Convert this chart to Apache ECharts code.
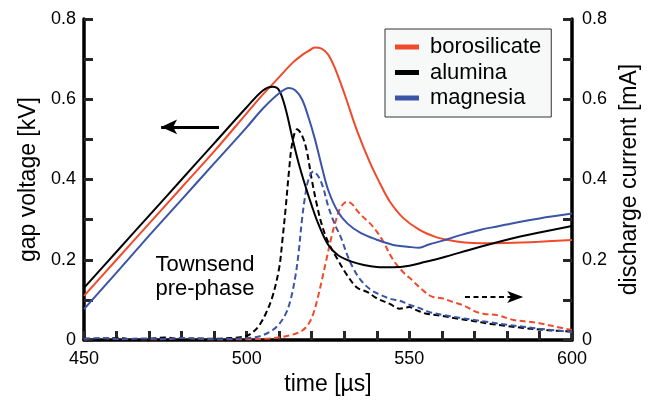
<!DOCTYPE html>
<html>
<head>
<meta charset="utf-8">
<script src="https://cdn.jsdelivr.net/npm/echarts@6/dist/echarts.min.js"></script>
<style>html,body{margin:0;padding:0;background:#fff}#c{width:650px;height:403px}</style>
</head>
<body>
<div id="c"></div>
<script>
// ---- data (time in µs, voltage in kV, current in mA) ----
const legendNames = ['borosilicate', 'alumina', 'magnesia'];
const xTicks = [450, 500, 550, 600];
const yTicks = [0, 0.2, 0.4, 0.6, 0.8];

const borosilicateVoltage = [[450,0.11],[460,0.2],[470,0.29],[480,0.38],[490,0.47],[500,0.565],[505,0.612],[510,0.655],[514,0.69],[517,0.71],[519,0.72],[521,0.729],[523,0.726],[525,0.712],[527,0.68],[530,0.615],[534,0.52],[538,0.44],[541,0.39],[544,0.345],[548,0.305],[553,0.275],[558,0.257],[562,0.249],[567,0.243],[572,0.241],[580,0.242],[590,0.245],[600,0.249]];
const aluminaVoltage = [[450,0.13],[460,0.22],[470,0.31],[480,0.4],[490,0.49],[500,0.58],[505,0.622],[508,0.631],[510,0.622],[512,0.575],[514,0.505],[516,0.44],[518,0.385],[520,0.335],[522,0.29],[525,0.238],[528,0.212],[532,0.196],[536,0.187],[540,0.182],[545,0.181],[550,0.185],[555,0.195],[560,0.205],[570,0.228],[580,0.25],[590,0.268],[600,0.284]];
const magnesiaVoltage = [[450,0.077],[460,0.168],[470,0.26],[480,0.35],[490,0.44],[500,0.53],[505,0.577],[510,0.615],[513,0.628],[515,0.622],[517,0.6],[519,0.555],[521,0.5],[523,0.435],[525,0.375],[528,0.32],[531,0.29],[535,0.267],[540,0.25],[545,0.237],[550,0.232],[553,0.23],[556,0.238],[560,0.247],[566,0.262],[572,0.275],[577,0.283],[583,0.293],[590,0.303],[600,0.315]];

const borosilicateCurrent = [[450,0.002],[460,0.003],[470,0.002],[480,0.003],[490,0.002],[500,0.002],[507,0.004],[511,0.008],[514,0.013],[517,0.023],[519,0.04],[520.5,0.066],[522,0.11],[523,0.145],[524.5,0.2],[526,0.255],[527.5,0.3],[529,0.332],[531,0.345],[532.5,0.338],[534,0.322],[536,0.305],[538,0.29],[540,0.27],[542,0.245],[545,0.2],[548,0.17],[551,0.148],[554,0.125],[557,0.108],[560,0.104],[563,0.096],[567,0.085],[570,0.072],[573,0.065],[577,0.062],[582,0.05],[586,0.046],[590,0.042],[595,0.033],[600,0.025]];
const aluminaCurrent = [[450,0.004],[455,0.002],[460,0.005],[465,0.002],[470,0.003],[475,0.006],[480,0.002],[485,0.004],[490,0.003],[495,0.005],[498,0.007],[500,0.01],[502,0.02],[504,0.038],[506,0.068],[508,0.11],[510,0.18],[511,0.25],[512,0.33],[513,0.42],[514,0.49],[515.5,0.525],[517,0.51],[518.5,0.47],[520,0.4],[521.5,0.34],[523,0.29],[525,0.245],[528,0.2],[531,0.16],[534,0.13],[537,0.12],[540,0.104],[544,0.09],[547,0.078],[550,0.082],[552,0.075],[555,0.066],[560,0.06],[565,0.053],[570,0.047],[575,0.04],[580,0.035],[585,0.03],[590,0.026],[595,0.023],[600,0.021]];
const magnesiaCurrent = [[450,0.003],[456,0.005],[462,0.002],[468,0.004],[474,0.002],[480,0.005],[486,0.003],[492,0.002],[498,0.004],[502,0.006],[505,0.012],[508,0.025],[510,0.04],[512,0.065],[513.5,0.1],[515,0.16],[516,0.22],[517,0.3],[518,0.36],[519,0.4],[520.5,0.42],[522,0.408],[523.5,0.38],[525,0.335],[527,0.29],[529,0.255],[531,0.21],[533,0.175],[535,0.15],[538,0.126],[541,0.113],[544,0.103],[547,0.098],[550,0.088],[553,0.08],[556,0.07],[560,0.063],[565,0.056],[570,0.05],[575,0.044],[580,0.038],[585,0.033],[590,0.028],[595,0.024],[600,0.02]];

// arrows (annotation), in data coordinates: [start, tip]
const voltArrow = [[491.5, 0.531], [473.7, 0.531]];
const currArrow = [[567.1, 0.107], [585.0, 0.107]];

const RED = '#F04A2B', BLACK = '#000000', BLUE = '#3B54A6';
const FONT = 'Liberation Sans, Arial, Helvetica, sans-serif';

const chart = echarts.init(document.getElementById('c'));

function tick() {
  return {show: true, inside: true, length: 9, lineStyle: {color: '#262626', width: 3, opacity: 1}};
}

function yAxisCfg(pos, name) {
  return {
    type: 'value', position: pos, min: 0, max: 0.8, interval: 0.1,
    name: name, nameLocation: 'middle', nameRotate: 90,
    nameGap: pos === 'left' ? 42 : 46,
    nameTextStyle: {fontSize: 23, color: '#000', fontFamily: FONT},
    axisLine: {show: true, onZero: false, lineStyle: {color: '#000', width: 3.5}},
    axisTick: tick(),
    axisLabel: {
      color: '#000', fontSize: 18, fontFamily: FONT, margin: pos === 'left' ? 8 : 10,
      formatter: v => {
        const hit = yTicks.find(t => Math.abs(t - v) < 1e-6);
        return hit === undefined ? '' : (hit === 0 ? '0' : String(hit));
      }
    },
    splitLine: {show: false}
  };
}

function line(name, data, color, yIdx, dashed) {
  return {
    name: name, type: 'line', data: data, yAxisIndex: yIdx,
    showSymbol: false, symbol: 'none', smooth: 0.35, silent: true,
    lineStyle: {color: color, width: 2, type: dashed ? [6, 3.5] : 'solid'},
    itemStyle: {color: color},
    z: dashed ? 3 : 4
  };
}

const series = [
  line('borosilicate', borosilicateVoltage, RED, 0, false),
  line('alumina', aluminaVoltage, BLACK, 0, false),
  line('magnesia', magnesiaVoltage, BLUE, 0, false),
  line('borosilicate current', borosilicateCurrent, RED, 1, true),
  line('alumina current', aluminaCurrent, BLACK, 1, true),
  line('magnesia current', magnesiaCurrent, BLUE, 1, true)
];

series[1].markLine = {
  silent: true, symbol: ['none', 'arrow'], symbolSize: [11, 16],
  label: {show: false},
  lineStyle: {color: '#000', width: 3, type: 'solid'},
  data: [[{coord: voltArrow[0]}, {coord: voltArrow[1]}]]
};
series[4].markLine = {
  silent: true, symbol: ['none', 'arrow'], symbolSize: [9, 16],
  label: {show: false},
  lineStyle: {color: '#000', width: 2.2, type: [5, 3.5]},
  data: [[{coord: currArrow[0]}, {coord: currArrow[1]}]]
};

chart.setOption({
  animation: false,
  backgroundColor: '#fff',
  grid: {left: 84, right: 78, top: 19, bottom: 63},
  legend: {
    data: legendNames, orient: 'vertical', left: 385, top: 29,
    backgroundColor: '#F7F9F9', borderColor: '#333', borderWidth: 1,
    padding: [7, 10, 8, 10], itemGap: 3.5,
    itemWidth: 24, itemHeight: 5, icon: 'rect',
    textStyle: {fontSize: 22, color: '#000', fontFamily: FONT, padding: [0, 0, 0, 6]}
  },
  xAxis: {
    type: 'value', min: 450, max: 600, interval: 10,
    name: 'time [µs]', nameLocation: 'middle', nameGap: 31,
    nameTextStyle: {fontSize: 23, color: '#000', fontFamily: FONT},
    axisLine: {show: true, onZero: false, lineStyle: {color: '#000', width: 3.5}},
    axisTick: tick(),
    axisLabel: {
      color: '#000', fontSize: 18, fontFamily: FONT, margin: 10,
      formatter: v => xTicks.indexOf(Math.round(v)) >= 0 ? String(Math.round(v)) : ''
    },
    splitLine: {show: false}
  },
  yAxis: [yAxisCfg('left', 'gap voltage [kV]'), yAxisCfg('right', 'discharge current [mA]')],
  graphic: [{
    type: 'text', x: 205, y: 253, silent: true,
    style: {text: 'Townsend\npre-phase', fontSize: 22, fontFamily: FONT, fill: '#000',
            textAlign: 'center', lineHeight: 24}
  }],
  series: series
});
</script>
</body>
</html>
